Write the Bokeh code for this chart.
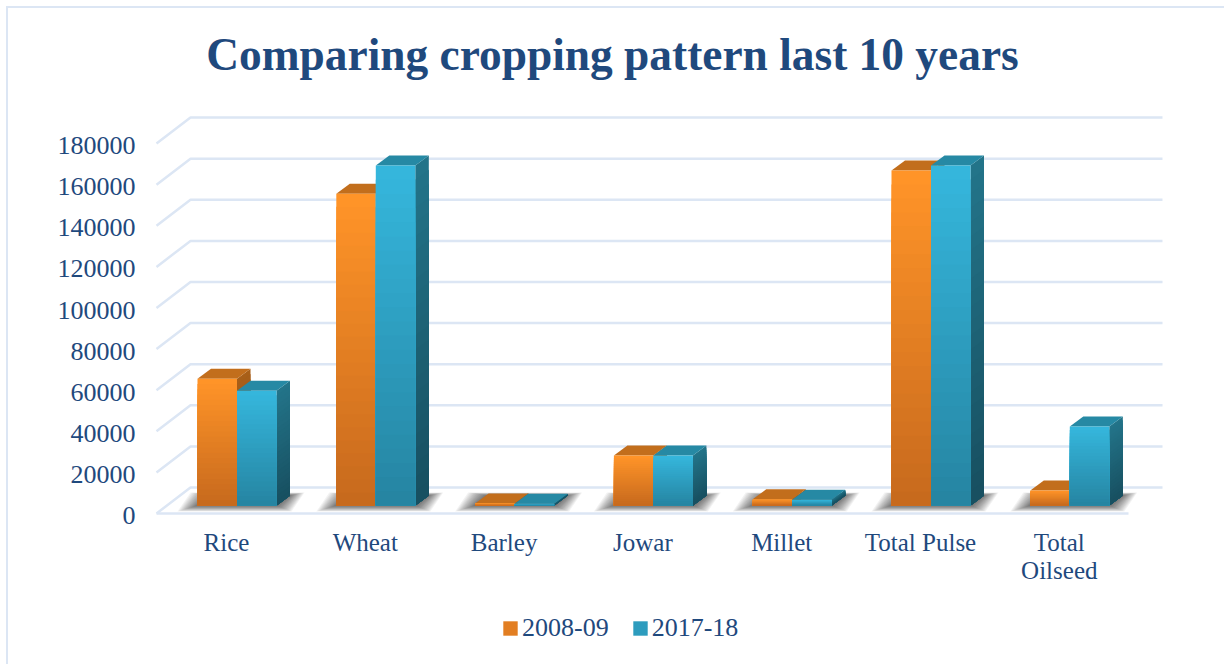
from bokeh.plotting import figure
from bokeh.models import (Range1d, LinearAxis, FixedTicker, Legend, LegendItem, Title, ColumnDataSource, BasicTickFormatter, InlineStyleSheet)
from bokeh.embed import file_html
from bokeh.resources import INLINE

categories = ["Rice", "Wheat", "Barley", "Jowar", "Millet", "Total Pulse", "Total\nOilseed"]
series_2008 = [61700, 151700, 1000, 24300, 3000, 163000, 7300]
series_2017 = [55800, 165400, 800, 24300, 2800, 165400, 38400]
series_names = ["2008-09", "2017-18"]
y_ticks = [0, 20000, 40000, 60000, 80000, 100000, 120000, 140000, 160000, 180000]

# --- layout scale: canvas pixels <-> data
W, H = 1224, 664
TOP = 100                # y of frame top
PX_X = 138.8             # px per category
PX_V = 41.1 / 20000      # px per unit
X0, Y0 = 236.5, 505      # position of first group centre / bar base


def dx(px):
    return px / PX_X


def dv(px):
    return px / PX_V


FONT = "Liberation Serif"
INK = "#1f497d"
GRID = "#dce6f4"

p = figure(width=W, height=H, output_backend="svg", toolbar_location=None,
           min_border_left=0, min_border_right=0, min_border_bottom=0, min_border_top=TOP,
           x_range=Range1d((0 - X0) / PX_X, (W - X0) / PX_X),
           y_range=Range1d((Y0 - H) / PX_V, (Y0 - TOP) / PX_V))
p.xaxis.visible = False
p.yaxis.visible = False
p.grid.visible = False
p.outline_line_color = None

p.title = Title(text="Comparing cropping pattern last 10 years", align="center", offset=7,
                text_font=FONT, text_font_size="45.4px", text_font_style="bold",
                text_color=INK, standoff=41)

# --- page frame (top and left rules of the chart area)
p.stylesheets = [InlineStyleSheet(css=f"""
:host::before {{content:""; position:absolute; left:6px; top:6px; right:0; height:2px; background:{GRID}; z-index:5;}}
:host::after  {{content:""; position:absolute; left:6px; top:6px; bottom:0; width:2px; background:{GRID}; z-index:5;}}
""")]

# --- walls and floor
left_f = dx(156 - X0)
left_b = dx(190 - X0)
right_b = dx(1162 - X0)
right_f = dx(1128 - X0)
back_off = dv(505 - 487)
front_off = dv(505 - 513)
xs, ys = [], []
for t in y_ticks:
    xs.append([left_f, left_b, right_b])
    ys.append([t + front_off, t + back_off, t + back_off])
xs.append([left_f, right_f])
ys.append([front_off, front_off])
p.multi_line(xs, ys, line_color=GRID, line_width=2.5)

# --- floor shadows
sx, sy = [], []
half = dx(39.5)
LAYERS = 14
for i in range(len(categories)):
    for n in range(1, LAYERS + 1):
        e = n * 10 / LAYERS
        l = i - half - dx(e * 2.0)
        r = i + half + dx(e * 1.5)
        b = -dv(e * 0.6)
        t = dv(10 + e * 0.3)
        sx.append([l, r, r + dx(13), l + dx(13)])
        sy.append([b, b, t, t])
p.patches(sx, sy, fill_color="#000000", fill_alpha=0.05, line_color=None)


def lerp(c1, c2, f):
    a = [int(c1[j:j + 2], 16) for j in (1, 3, 5)]
    b = [int(c2[j:j + 2], 16) for j in (1, 3, 5)]
    return "#%02x%02x%02x" % tuple(round(u + (w - u) * f) for u, w in zip(a, b))


N = 24
depth_x, depth_v = dx(13.5), dv(10)
legend_refs = []


def bars(values, offset, bottom_c, top_c, top_face, side_bottom, side_top):
    lefts, rights, tops, cols = [], [], [], []
    sxs, sys, scols = [], [], []
    for i, v in enumerate(values):
        l = i + offset
        r = l + half
        for k in range(N - 1, -1, -1):
            f = (k + 1) / N
            lefts.append(l)
            rights.append(r)
            tops.append(v * f)
            cols.append(lerp(bottom_c, top_c, f))
            sxs.append([r, r + depth_x, r + depth_x, r])
            sys.append([0, depth_v, v * f + depth_v, v * f])
            scols.append(lerp(side_bottom, side_top, f))
    p.patches(sxs, sys, fill_color=scols, line_color=None)
    # top faces
    p.patches([[i + offset, i + offset + half, i + offset + half + depth_x, i + offset + depth_x]
               for i in range(len(values))],
              [[v, v, v + depth_v, v + depth_v] for v in values],
              fill_color=top_face, line_color=None)
    src = ColumnDataSource(dict(l=lefts, r=rights, t=tops, c=cols))
    rend = p.quad(left="l", right="r", bottom=0, top="t", fill_color="c", line_color=None, source=src)
    legend_refs.append(rend)


bars(series_2008, -half, "#c5681d", "#ff9428", "#c26e1c", "#8f5014", "#a85f18")
bars(series_2017, 0, "#2583a0", "#35b6dc", "#2689a4", "#174e5f", "#237489")

# --- axes (real Bokeh axes fixed inside the frame)
p.extra_y_ranges["front"] = Range1d(p.y_range.start + dv(10), p.y_range.end + dv(10))
yaxis = LinearAxis(y_range_name="front", ticker=FixedTicker(ticks=y_ticks),
                   formatter=BasicTickFormatter(use_scientific=False),
                   major_label_text_font=FONT, major_label_text_font_size="26px",
                   major_label_text_color=INK, axis_line_color=None,
                   major_tick_line_color=None, minor_tick_line_color=None,
                   major_label_standoff=10, fixed_location=(151 - X0) / PX_X)
p.add_layout(yaxis, "left")

p.extra_x_ranges["labels"] = Range1d(p.x_range.start + dx(10.5), p.x_range.end + dx(10.5))
xaxis = LinearAxis(x_range_name="labels", ticker=FixedTicker(ticks=list(range(len(categories)))),
                   major_label_overrides={i: c for i, c in enumerate(categories)},
                   major_label_text_font=FONT, major_label_text_font_size="25px",
                   major_label_text_color=INK, axis_line_color=None,
                   major_tick_line_color=None, minor_tick_line_color=None,
                   major_label_text_line_height=1.05,
                   major_label_standoff=6, fixed_location=dv(505 - 516))
p.add_layout(xaxis, "below")

# --- legend
legend = Legend(items=[LegendItem(label=series_names[0], renderers=[legend_refs[0]], index=N // 2),
                       LegendItem(label=series_names[1], renderers=[legend_refs[1]], index=N // 2)],
                orientation="horizontal", location=(501, 21),
                glyph_width=18, glyph_height=18, label_standoff=3, spacing=22,
                padding=0, margin=0, border_line_color=None, background_fill_alpha=0,
                label_text_font=FONT, label_text_font_size="26px", label_text_color=INK)
p.add_layout(legend)

open("out.html", "w").write(file_html(p, INLINE))
